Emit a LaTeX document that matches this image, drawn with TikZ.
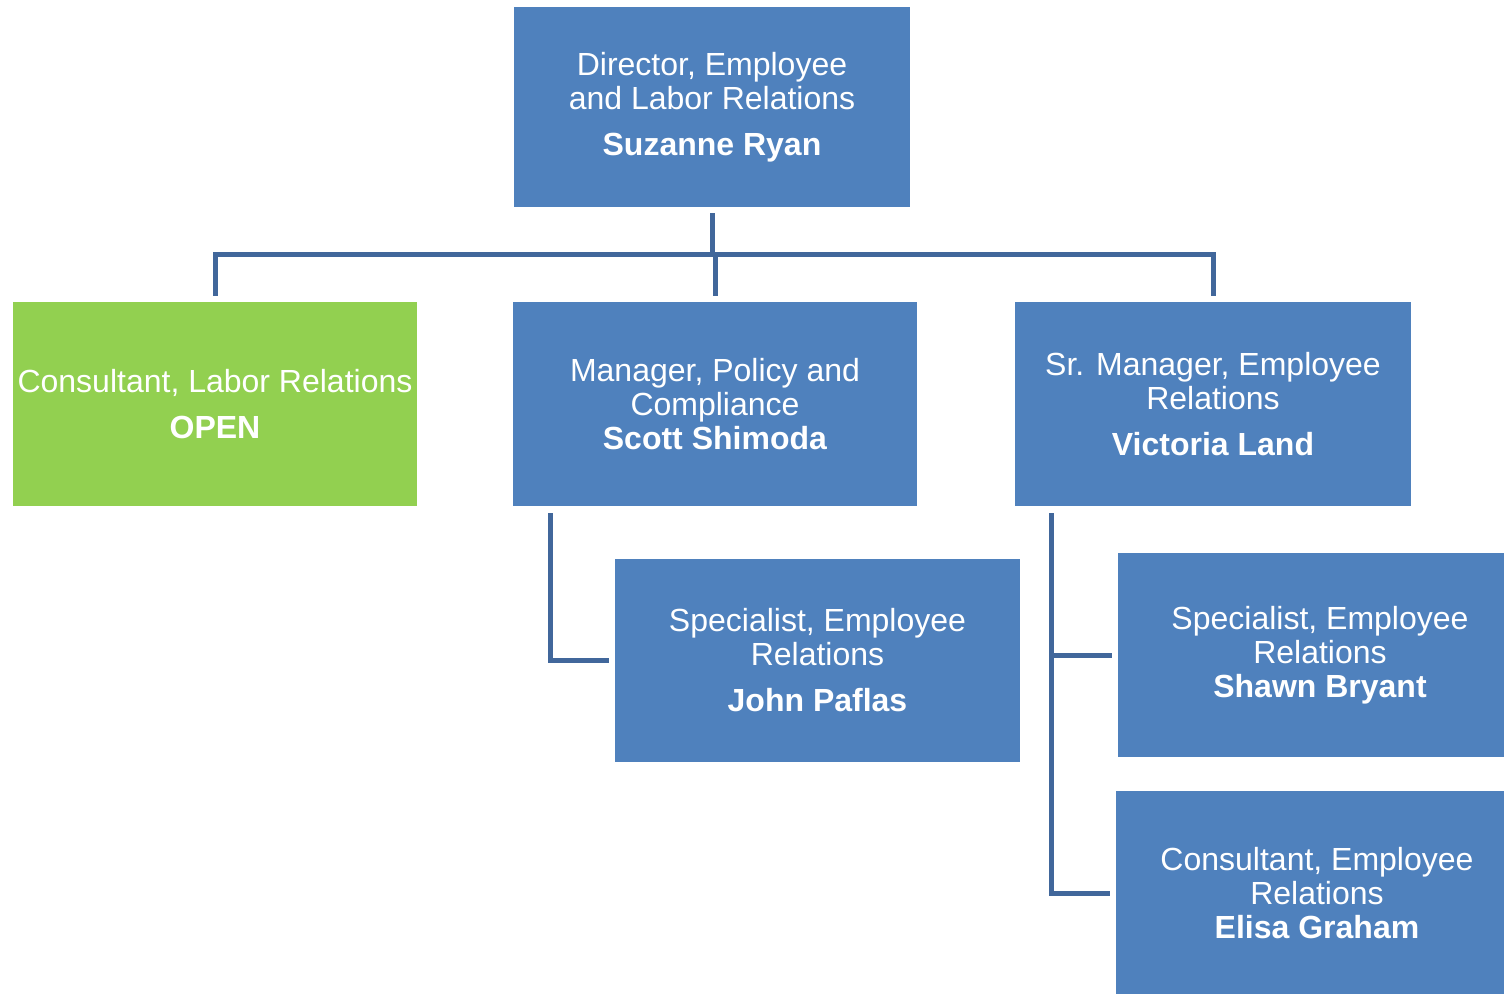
\documentclass[tikz,border=0pt]{standalone}
\usepackage{fontspec}
\setmainfont{Liberation Sans}
\usetikzlibrary{calc}
\definecolor{boxblue}{RGB}{79,129,189}
\definecolor{boxgreen}{RGB}{146,208,80}
\definecolor{linkblue}{RGB}{65,103,155}
\begin{document}
\begin{tikzpicture}[x=0.5pt,y=-0.5pt,
  orgbox/.style={rectangle, fill=boxblue, draw=none, inner sep=0pt, text=white, align=center, font=\fontsize{16}{17}\selectfont},
  openbox/.style={orgbox, fill=boxgreen},
  conn/.style={draw=linkblue, line width=2.5pt}]
\useasboundingbox (0,0) rectangle (1504,994);
\clip (0,0) rectangle (1504,994);
\fill[white] (0,0) rectangle (1504,994);
% boxes
\node[orgbox, minimum width=198pt, minimum height=100pt] (dir) at (712,107)
  {Director, Employee\\and Labor Relations\\[6pt]\textbf{Suzanne Ryan}};
\node[openbox, minimum width=202pt, minimum height=102pt] (clr) at (215,404)
  {Consultant, Labor Relations\\[6pt]\textbf{OPEN}};
\node[orgbox, minimum width=202pt, minimum height=102pt] (mpc) at (715,404)
  {Manager, Policy and\\Compliance\\\textbf{Scott Shimoda}};
\node[orgbox, minimum width=198pt, minimum height=102pt] (srm) at (1213,404)
  {Sr. Manager, Employee\\Relations\\[6pt]\textbf{Victoria Land}};
\node[orgbox, minimum width=202.5pt, minimum height=101.5pt] (spj) at (817.5,660.5)
  {Specialist, Employee\\Relations\\[6pt]\textbf{John Paflas}};
\node[orgbox, minimum width=202pt, minimum height=102pt] (sps) at (1320,655)
  {Specialist, Employee\\Relations\\\textbf{Shawn Bryant}};
\node[orgbox, minimum width=201pt, minimum height=102pt] (cne) at (1317,893)
  {Consultant, Employee\\Relations\\\textbf{Elisa Graham}};
% connectors
\draw[conn] ($(dir.south)+(0,6)$) -- ++(0,41) coordinate (bus);
\draw[conn] ($(clr.north)+(0,-6)$) -- (clr.north |- bus) -- (srm.north |- bus) -- ($(srm.north)+(0,-6)$);
\draw[conn] (mpc.north |- bus) -- ($(mpc.north)+(0,-6)$);
\draw[conn] ($(mpc.south west)+(38,7)$) coordinate (mt) -- (mt |- spj.west) -- ($(spj.west)+(-6,0)$);
\draw[conn] ($(srm.south west)+(37,7)$) coordinate (st) -- (st |- cne.west) -- ($(cne.west)+(-6,0)$);
\draw[conn] (st |- sps.west) -- ($(sps.west)+(-6,0)$);
\end{tikzpicture}
\end{document}
